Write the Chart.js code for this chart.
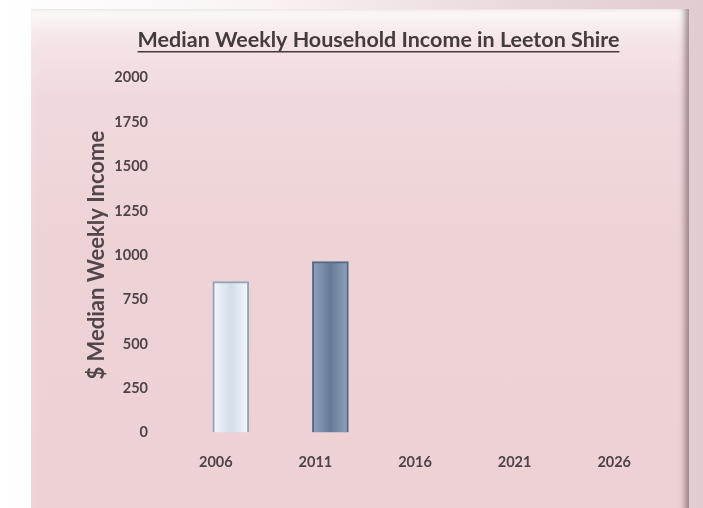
<!DOCTYPE html>
<html>
<head>
<meta charset="utf-8">
<script src="https://cdn.jsdelivr.net/npm/chart.js@4/dist/chart.umd.min.js"></script>
<style>
  html, body { margin: 0; padding: 0; }
  body {
    width: 703px; height: 508px; overflow: hidden; position: relative;
    background: linear-gradient(90deg, #ffffff 0%, #fbf4f5 35%, #e9d8da 75%, #dfcdd0 100%);
  }
  /* el panel rosa con bisel */
  #panel {
    position: absolute; left: 31px; top: 9px; width: 658px; height: 510px;
    background: linear-gradient(180deg, #f7eaec 0%, #f0d9dc 18%, #eed3d6 45%, #edd1d4 100%);
    box-shadow: inset -7px 0 6px -3px rgba(110, 80, 86, 0.65), inset 0 28px 30px -18px rgba(255,255,255,0.9);
  }
  #chart { position: absolute; left: 0; top: 0; }
</style>
</head>
<body>
<div id="panel"></div>
<canvas id="chart" width="703" height="508"></canvas>
<script>
// Datos del gráfico
const years = ['2006', '2011', '2016', '2021', '2026'];
const incomeValues = [851, 964, null, null, null];
const yMin = 0, yMax = 2000, yStep = 250;

// colores de cada barra: [borde, centro]
const barEdgeTone = ['#f4f8fc', '#8ea2bc', '#8ea2bc', '#8ea2bc', '#8ea2bc'];
const barMidTone  = ['#d3dde8', '#667b98', '#667b98', '#667b98', '#667b98'];
const barEdge     = ['#93a4b9', '#556983', '#556983', '#556983', '#556983'];

/* Relleno con degradado horizontal para dar un poco de relieve */
function rellenoBarra(context) {
    const chart = context.chart;
    const i = context.dataIndex;
    if (!chart.chartArea || !chart.scales.x) return barMidTone[i];
    const cx = chart.scales.x.getPixelForValue(i);
    const g = chart.ctx.createLinearGradient(cx - 18, 0, cx + 18, 0);
    g.addColorStop(0, barEdgeTone[i]);
    g.addColorStop(0.5, barMidTone[i]);
    g.addColorStop(1, barEdgeTone[i]);
    return g;
}

/* Plugin para subrayar el título */
const underlineTitle = {
    id: 'underlineTitle',
    afterDraw(chart) {
        const t = chart.titleBlock;
        if (!t) return;
        const c = chart.ctx;
        const opts = chart.options.plugins.title;
        c.save();
        c.font = `bold ${opts.font.size}px ${opts.font.family}`;
        const w = c.measureText(opts.text).width;
        const cx = (t.left + t.right) / 2;
        const y = t.top + opts.padding.top + opts.font.size * 1.2 - 1;
        c.strokeStyle = opts.color;
        c.lineWidth = 1.6;
        c.beginPath();
        c.moveTo(cx - w / 2, y);
        c.lineTo(cx + w / 2, y);
        c.stroke();
        c.restore();
    }
};

const ctx = document.querySelector('#chart').getContext('2d');

new Chart(ctx, {
    type: 'bar',
    data: {
        labels: years,
        datasets: [{
            label: 'Median Weekly Household Income',
            data: incomeValues,
            backgroundColor: rellenoBarra,
            borderColor: barEdge,
            borderWidth: 2,
            barThickness: 36
        }]
    },
    options: {
        responsive: false,
        animation: false,
        layout: { padding: { left: 78, right: 24, top: 0, bottom: 16 } },
        plugins: {
            legend: { display: false },
            tooltip: { enabled: false },
            title: {
                display: true,
                text: 'Median Weekly Household Income in Leeton Shire',
                color: '#433b3d',
                font: { family: 'Lato', size: 21.5, weight: 'bold', lineHeight: 1.2 },
                padding: { top: 27, bottom: 25 }
            }
        },
        scales: {
            x: {
                grid: { display: false, drawTicks: false },
                border: { display: false },
                ticks: {
                    color: '#4e4346',
                    font: { family: 'Lato', size: 14.5, weight: 'bold' },
                    padding: 21,
                    labelOffset: -15
                }
            },
            y: {
                min: yMin,
                max: yMax,
                afterFit(scale) { scale.width = 103; },
                grid: { display: false, drawTicks: false },
                border: { display: false },
                ticks: {
                    stepSize: yStep,
                    color: '#4e4346',
                    font: { family: 'Lato', size: 14.5, weight: 'bold' },
                    padding: 33,
                    callback: (v) => String(v)
                },
                title: {
                    display: true,
                    text: '$ Median Weekly Income',
                    color: '#51474a',
                    font: { family: 'Lato', size: 22, weight: 'bold' },
                    padding: { top: 6, bottom: 0 }
                }
            }
        }
    },
    plugins: [underlineTitle]
});
</script>
</body>
</html>
